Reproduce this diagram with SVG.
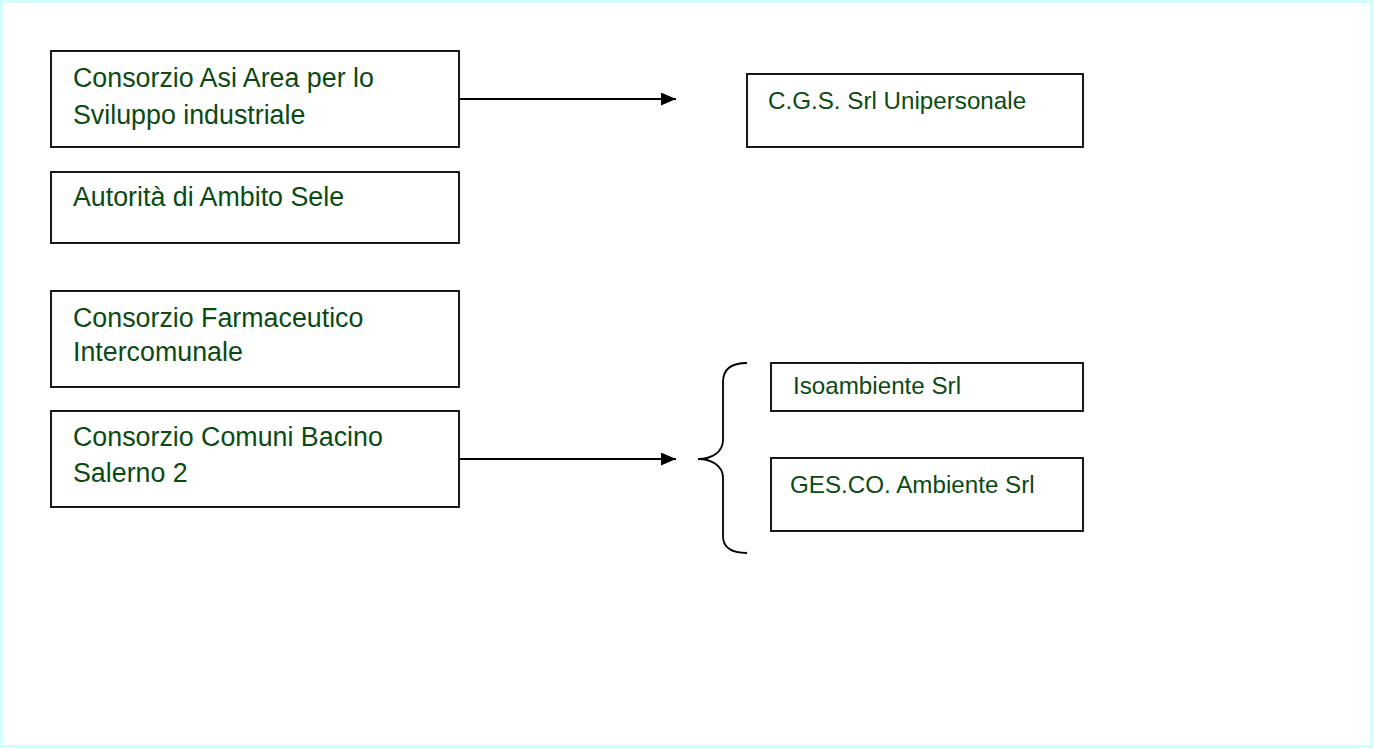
<svg xmlns="http://www.w3.org/2000/svg" width="1374" height="749" viewBox="0 0 1374 749">
<style>
.box{fill:#fff;stroke:#000;stroke-width:1.8}
.t{font-family:"Liberation Sans",Arial,sans-serif;fill:#0b4a12}
.l{font-size:26.8px}
.r{font-size:24.2px}
.c{stroke:#000;stroke-width:1.8;fill:none}
</style>
<defs>
<marker id="ah" markerWidth="15" markerHeight="13" refX="15" refY="6.5" orient="auto" markerUnits="userSpaceOnUse">
<path d="M0,0 L15,6.5 L0,13 Z" fill="#000"/>
</marker>
</defs>
<rect x="1.5" y="1.5" width="1370" height="745" fill="#fff" stroke="#c8ffff" stroke-width="2.5"/>
<g id="n1"><rect class="box" x="51" y="51" width="408" height="96"/>
<text class="t l" x="73" y="87">Consorzio Asi Area per lo</text>
<text class="t l" x="73" y="124">Sviluppo industriale</text></g>
<g id="n2"><rect class="box" x="51" y="172" width="408" height="71"/>
<text class="t l" x="73" y="206">Autorità di Ambito Sele</text></g>
<g id="n3"><rect class="box" x="51" y="291" width="408" height="96"/>
<text class="t l" x="73" y="327">Consorzio Farmaceutico</text>
<text class="t l" x="73" y="361">Intercomunale</text></g>
<g id="n4"><rect class="box" x="51" y="411" width="408" height="96"/>
<text class="t l" x="73" y="446">Consorzio Comuni Bacino</text>
<text class="t l" x="73" y="482">Salerno 2</text></g>
<g id="n5"><rect class="box" x="747" y="74" width="336" height="73"/>
<text class="t r" x="768" y="109">C.G.S. Srl Unipersonale</text></g>
<g id="n6"><rect class="box" x="771" y="363" width="312" height="48"/>
<text class="t r" x="793" y="394">Isoambiente Srl</text></g>
<g id="n7"><rect class="box" x="771" y="458" width="312" height="73"/>
<text class="t r" x="790" y="493">GES.CO. Ambiente Srl</text></g>
<g id="connectors">
<line class="c" x1="459" y1="99" x2="676" y2="99" marker-end="url(#ah)"/>
<line class="c" x1="459" y1="459" x2="676" y2="459" marker-end="url(#ah)"/>
<path class="c" d="M747,363 C733,363 723,368 723,382 L723,440 C723,452 712,459 698,459 C712,459 723,466 723,478 L723,536 C723,549 733,553 747,553"/>
</g>
</svg>
